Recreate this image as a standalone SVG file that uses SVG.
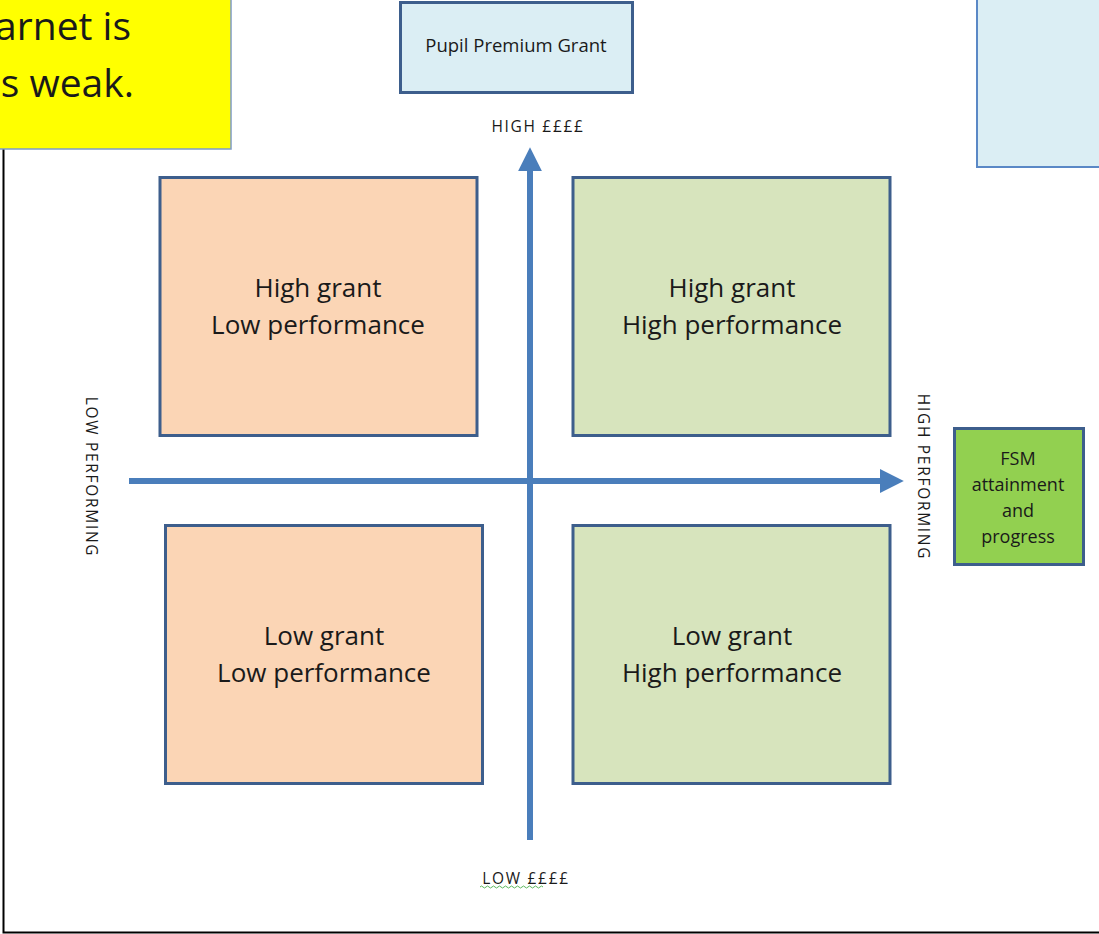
<svg xmlns="http://www.w3.org/2000/svg" width="1099" height="934" viewBox="0 0 1099 934">
<defs>
<style>
.t{font-family:"Open Sans","Liberation Sans",sans-serif;fill:#1a1a1a}
.q{font-size:26px;text-anchor:middle}
.s{font-size:15.5px;letter-spacing:1.7px;text-anchor:middle}
.quad{stroke:#3d5e8c;stroke-width:3}
.ax{stroke:#4a7ebb;stroke-width:6;fill:none}
</style>
<marker id="ah" markerWidth="4" markerHeight="4" refX="2.2" refY="2" orient="auto" markerUnits="strokeWidth">
<path d="M0,0 L4,2 L0,4 Z" fill="#4a7ebb"/>
</marker>
</defs>
<rect width="1099" height="934" fill="#fff"/>
<g id="page-border"><path d="M3.5,149 V932.5 H1099" fill="none" stroke="#000" stroke-width="2"/></g>
<g id="note-yellow">
<rect x="-5" y="-5" width="236" height="154" fill="#ffff00" stroke="#7d9bc8" stroke-width="1.5"/>
<text class="t" x="131" y="40" font-size="39" text-anchor="end">arnet is</text>
<text class="t" x="134" y="97" font-size="39" text-anchor="end">s weak.</text>
</g>
<g id="pupil-premium">
<rect x="400.5" y="2.5" width="232" height="90" fill="#dbeef4" stroke="#3d5e8c" stroke-width="3"/>
<text class="t" x="516" y="52" font-size="18.5" text-anchor="middle">Pupil Premium Grant</text>
</g>
<g id="note-blue">
<rect x="977" y="-5" width="130" height="172" fill="#dbeef4" stroke="#5a88c6" stroke-width="2"/>
</g>
<g id="connectors">
<line class="ax" x1="530" y1="840" x2="530" y2="158" marker-end="url(#ah)"/>
<line class="ax" x1="129" y1="481" x2="893" y2="481" marker-end="url(#ah)"/>
</g>
<g id="q-high-low">
<rect class="quad" x="160" y="177.5" width="317" height="258" fill="#fbd5b5"/>
<text class="t q" x="318" y="297">High grant</text>
<text class="t q" x="318" y="334">Low performance</text>
</g>
<g id="q-high-high">
<rect class="quad" x="573" y="177.5" width="317" height="258" fill="#d7e4bd"/>
<text class="t q" x="732" y="297">High grant</text>
<text class="t q" x="732" y="334">High performance</text>
</g>
<g id="q-low-low">
<rect class="quad" x="165.5" y="525.5" width="317" height="258" fill="#fbd5b5"/>
<text class="t q" x="324" y="645">Low grant</text>
<text class="t q" x="324" y="682">Low performance</text>
</g>
<g id="q-low-high">
<rect class="quad" x="573" y="525.5" width="317" height="258" fill="#d7e4bd"/>
<text class="t q" x="732" y="645">Low grant</text>
<text class="t q" x="732" y="682">High performance</text>
</g>
<g id="fsm">
<rect x="954.5" y="428.5" width="129" height="136" fill="#92d050" stroke="#3d5e8c" stroke-width="3"/>
<text class="t" font-size="18" text-anchor="middle"><tspan x="1018" y="465">FSM</tspan><tspan x="1018" y="491">attainment</tspan><tspan x="1018" y="517">and</tspan><tspan x="1018" y="543">progress</tspan></text>
</g>
<g id="labels">
<text class="t s" x="538" y="132">HIGH ££££</text>
<text class="t s" x="526" y="884">LOW  ££££</text>
<path d="M480,887 q1.5,-2 3,0 t3,0 t3,0 t3,0 t3,0 t3,0 t3,0 t3,0 t3,0 t3,0 t3,0 t3,0 t3,0 t3,0 t3,0 t3,0 t3,0 t3,0 t3,0 t3,0 t3,0" fill="none" stroke="#5cb85c" stroke-width="1"/>
<text class="t s" transform="translate(86,477) rotate(90)">LOW PERFORMING</text>
<text class="t s" transform="translate(918,477) rotate(90)">HIGH PERFORMING</text>
</g>
</svg>
